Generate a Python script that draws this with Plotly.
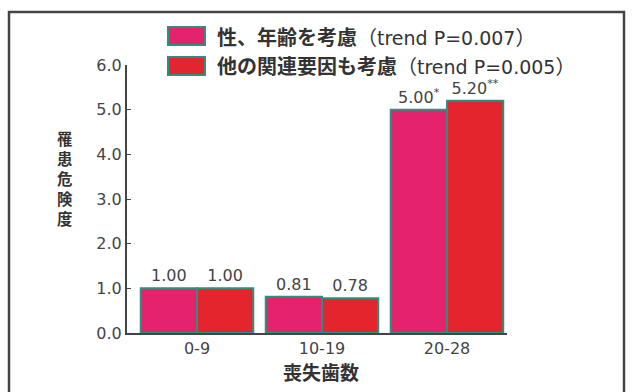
import plotly.graph_objects as go

# Number of lost teeth (groups) and relative risk for two adjustment models
categories = ["0-9", "10-19", "20-28"]
risk_age_sex = [1.00, 0.81, 5.00]
risk_all = [1.00, 0.78, 5.20]
labels_age_sex = ["1.00", "0.81", "5.00<sup>*</sup>"]
labels_all = ["1.00", "0.78", "5.20<sup>**</sup>"]
series_names = ["性、年齢を考慮（trend P=0.007）", "他の関連要因も考慮（trend P=0.005）"]
y_title = "罹患危険度"
x_title = "喪失歯数"
y_ticks = [0, 1, 2, 3, 4, 5, 6]

PINK = "#e5226c"
RED = "#e5252d"
EDGE = "#2f8f7e"
AXIS = "#444444"
TEXT = "#333333"
NUM_FONT = "DejaVu Sans"
JP_FONT = "Noto Sans CJK JP"

# Plot-area geometry in pixels (used to place paper-referenced decorations)
W, H = 634, 392
L, R, T, B = 127, 127, 65, 59
PW, PH = W - L - R, H - T - B


def px_x(px):
    return (px - L) / PW


def px_y(py):
    return (H - B - py) / PH


fig = go.Figure()
for name, vals, labs, color in [
    (series_names[0], risk_age_sex, labels_age_sex, PINK),
    (series_names[1], risk_all, labels_all, RED),
]:
    fig.add_trace(go.Bar(
        x=categories, y=vals, name=name,
        marker=dict(color=color, line=dict(color=EDGE, width=2)),
        text=labs, textposition="outside", cliponaxis=False,
        textfont=dict(family=NUM_FONT, size=16, color="#444444"),
        showlegend=False,
    ))

# Outer frame around the whole chart
fig.add_shape(type="rect", xref="paper", yref="paper",
              x0=px_x(9), x1=px_x(624), y0=px_y(400), y1=px_y(12),
              line=dict(color=AXIS, width=2.5), layer="below")

# Hand-built legend with wide swatches
for yc, color, name in [(36, PINK, series_names[0]), (66, RED, series_names[1])]:
    fig.add_shape(type="rect", xref="paper", yref="paper",
                  x0=px_x(168), x1=px_x(205), y0=px_y(yc + 9), y1=px_y(yc - 9),
                  fillcolor=color, line=dict(color=EDGE, width=2))
    jp, latin = name.split("（", 1)
    label = (f"<b>{jp}</b>（<span style='font-family:DejaVu Sans;font-size:19px'>"
             f"{latin[:-1]}</span>）")
    fig.add_annotation(xref="paper", yref="paper", x=px_x(215), y=px_y(yc),
                       xanchor="left", yanchor="middle", showarrow=False,
                       text=label,
                       font=dict(family=JP_FONT, size=20, color=TEXT))

# Vertical y-axis title, one character per line
fig.add_annotation(xref="paper", yref="paper", x=px_x(65), y=px_y(178),
                   xanchor="center", yanchor="middle", showarrow=False,
                   text="<br>".join(y_title),
                   font=dict(family=JP_FONT, size=15.4, color=TEXT, weight="bold"))

# x-axis title
fig.add_annotation(xref="paper", yref="paper", x=px_x(321), y=px_y(371),
                   xanchor="center", yanchor="middle", showarrow=False,
                   text=x_title,
                   font=dict(family=JP_FONT, size=19, color=TEXT, weight="bold"))

fig.update_layout(
    width=W, height=H,
    margin=dict(l=L, r=R, t=T, b=B),
    paper_bgcolor="white", plot_bgcolor="white",
    barmode="group", bargap=0.1, bargroupgap=0,
    xaxis=dict(type="category", range=[-0.56, 2.48], showline=True,
               linecolor=AXIS, linewidth=2, ticks="", showgrid=False,
               tickfont=dict(family=NUM_FONT, size=16, color="#444444")),
    yaxis=dict(range=[0, 6], tickvals=y_ticks, tickformat=".1f",
               showline=True, linecolor=AXIS, linewidth=2,
               ticks="inside", ticklen=4, tickcolor=AXIS, showgrid=False,
               zeroline=False,
               tickfont=dict(family=NUM_FONT, size=16, color="#444444")),
)

fig.write_html("out.html")
